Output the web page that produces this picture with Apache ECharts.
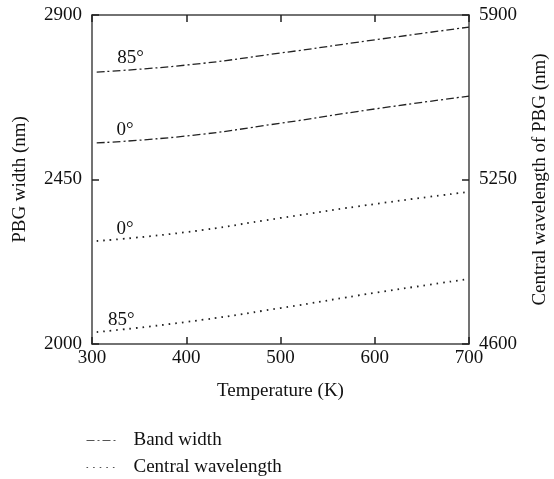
<!DOCTYPE html>
<html>
<head>
<meta charset="utf-8">
<script src="https://cdn.jsdelivr.net/npm/echarts@6/dist/echarts.min.js"></script>
<style>
  html, body { margin: 0; padding: 0; background: #fff; }
  #main { width: 554px; height: 479px; }
</style>
</head>
<body>
<div id="main"></div>
<script>
// temperature (K)
var temps = [305, 400, 500, 600, 700];
// band width (nm), left axis
var band85 = [2744, 2763, 2796, 2832, 2867];
var band0 = [2550, 2569, 2604, 2643, 2678];
// central wavelength (nm), right axis
var cent0 = [5007, 5042, 5098, 5153, 5201];
var cent85 = [4647, 4687, 4742, 4802, 4857];
// angle label anchors [temperature, value]
var lblBand85 = [341, 2752];
var lblBand0 = [335, 2556];
var lblCent0 = [335, 5010];
var lblCent85 = [331, 4650];

var FONT = 'Liberation Serif';
var INK = '#222';

function pairs(xs, ys) {
  return xs.map(function (x, i) { return [x, ys[i]]; });
}

function plain(v) { return String(v); }

function angleMark(coord, text) {
  return {
    symbol: 'circle',
    symbolSize: 1,
    silent: true,
    itemStyle: { color: 'rgba(0,0,0,0)' },
    label: {
      show: true, formatter: text, position: 'top', distance: 1,
      color: '#111', fontFamily: FONT, fontSize: 19
    },
    data: [{ coord: coord }]
  };
}

var dashDot = { color: INK, width: 1.3, type: [8, 3, 2, 3] };
var dotted = { color: INK, width: 1.8, type: [1.6, 5] };

var chart = echarts.init(document.getElementById('main'));
chart.setOption({
  animation: false,
  textStyle: { fontFamily: FONT },
  grid: { left: 92, right: 85, top: 15, bottom: 135, outerBoundsMode: 'none' },
  legend: {
    orient: 'vertical',
    left: 86, top: 431, height: 60, padding: 0,
    itemWidth: 32, itemHeight: 12, itemGap: 8,
    itemStyle: { opacity: 0 },
    lineStyle: { color: '#555', width: 1 },
    textStyle: { fontFamily: FONT, fontSize: 19, color: '#111', padding: [0, 0, 0, 10] },
    data: ['Band width', 'Central wavelength']
  },
  xAxis: [{
    type: 'value', min: 300, max: 700, interval: 100,
    name: 'Temperature (K)', nameLocation: 'middle', nameGap: 38,
    nameTextStyle: { fontFamily: FONT, fontSize: 19, color: '#111' },
    axisLine: { lineStyle: { color: '#444', width: 1.5 } },
    axisTick: { inside: true, length: 7, lineStyle: { color: '#222', width: 1.5 } },
    axisLabel: { fontFamily: FONT, fontSize: 19, color: '#111', margin: 5, formatter: plain },
    splitLine: { show: false }
  }, {
    type: 'value', min: 300, max: 700, interval: 100, position: 'top',
    axisLine: { show: true, lineStyle: { color: '#444', width: 1.5 } },
    axisTick: { inside: true, length: 7, lineStyle: { color: '#222', width: 1.5 } },
    axisLabel: { show: false },
    splitLine: { show: false }
  }],
  yAxis: [{
    type: 'value', min: 2000, max: 2900, interval: 450,
    name: 'PBG width (nm)', nameLocation: 'middle', nameGap: 62, nameRotate: 90,
    nameTextStyle: { fontFamily: FONT, fontSize: 19, color: '#111' },
    axisLine: { show: true, lineStyle: { color: '#444', width: 1.5 } },
    axisTick: { inside: true, length: 7, lineStyle: { color: '#222', width: 1.5 } },
    axisLabel: { fontFamily: FONT, fontSize: 19, color: '#111', margin: 10, formatter: plain },
    splitLine: { show: false }
  }, {
    type: 'value', min: 4600, max: 5900, interval: 650, position: 'right',
    name: 'Central wavelength of PBG (nm)', nameLocation: 'middle', nameGap: 62, nameRotate: 90,
    nameTextStyle: { fontFamily: FONT, fontSize: 19, color: '#111' },
    axisLine: { show: true, lineStyle: { color: '#444', width: 1.5 } },
    axisTick: { inside: true, length: 7, lineStyle: { color: '#222', width: 1.5 } },
    axisLabel: { fontFamily: FONT, fontSize: 19, color: '#111', margin: 10, formatter: plain },
    splitLine: { show: false }
  }],
  series: [{
    name: 'Band width', type: 'line', smooth: true, showSymbol: false, symbol: 'none',
    yAxisIndex: 0, data: pairs(temps, band85), lineStyle: dashDot,
    itemStyle: { color: INK },
    markPoint: angleMark(lblBand85, '85°')
  }, {
    name: 'Band width', type: 'line', smooth: true, showSymbol: false, symbol: 'none',
    yAxisIndex: 0, data: pairs(temps, band0), lineStyle: dashDot,
    itemStyle: { color: INK },
    markPoint: angleMark(lblBand0, '0°')
  }, {
    name: 'Central wavelength', type: 'line', smooth: true, showSymbol: false, symbol: 'none',
    yAxisIndex: 1, data: pairs(temps, cent0), lineStyle: dotted,
    itemStyle: { color: INK },
    markPoint: angleMark(lblCent0, '0°')
  }, {
    name: 'Central wavelength', type: 'line', smooth: true, showSymbol: false, symbol: 'none',
    yAxisIndex: 1, data: pairs(temps, cent85), lineStyle: dotted,
    itemStyle: { color: INK },
    markPoint: angleMark(lblCent85, '85°')
  }]
});
</script>
</body>
</html>
